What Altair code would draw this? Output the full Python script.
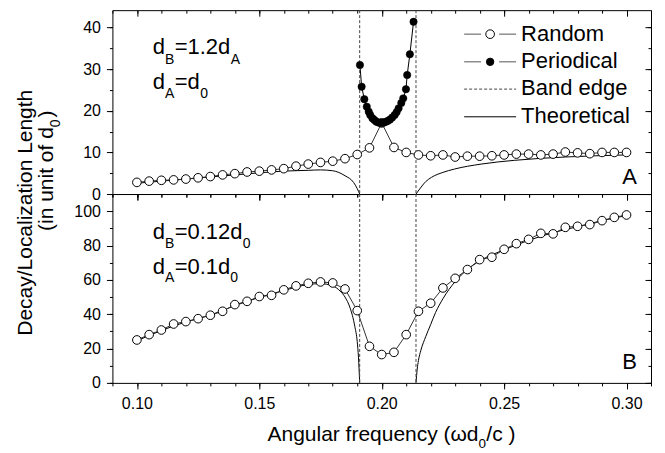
import altair as alt
import pandas as pd

FONT = "Liberation Sans"

# ---------------- data ----------------
x_rand = [0.100, 0.105, 0.110, 0.115, 0.120, 0.125, 0.130, 0.135, 0.140, 0.145,
          0.150, 0.155, 0.160, 0.165, 0.170, 0.175, 0.180, 0.185, 0.190, 0.195,
          0.200, 0.205, 0.210, 0.215, 0.220, 0.225, 0.230, 0.235, 0.240, 0.245,
          0.250, 0.255, 0.260, 0.265, 0.270, 0.275, 0.280, 0.285, 0.290, 0.295, 0.300]
rand_top = [2.8, 3.1, 3.3, 3.4, 3.6, 3.9, 4.2, 4.6, 4.9, 5.3,
            5.5, 5.8, 6.1, 6.7, 7.2, 7.6, 7.9, 8.5, 9.5, 11.1,
            17.1, 11.2, 10.0, 9.4, 9.2, 9.4, 8.9, 9.1, 9.1, 9.2,
            9.4, 9.6, 9.6, 9.4, 9.6, 10.1, 9.9, 9.7, 10.0, 10.0, 10.0]
rand_bot = [25.0, 28.1, 30.8, 34.3, 35.7, 37.4, 39.4, 41.7, 45.6, 47.5,
            50.3, 51.0, 54.2, 56.5, 58.0, 58.8, 58.2, 54.7, 42.1, 21.3,
            16.5, 17.8, 28.1, 41.7, 46.4, 55.3, 60.9, 66.0, 71.8, 73.2,
            77.8, 81.1, 83.6, 87.1, 86.8, 90.6, 91.2, 92.2, 94.5, 96.4, 97.8]

x_per = [0.1911, 0.1918, 0.1929, 0.1939, 0.1947, 0.1953, 0.1962, 0.1970, 0.1978,
         0.1986, 0.1994, 0.2002, 0.2010, 0.2018, 0.2026, 0.2034, 0.2043, 0.2053,
         0.2061, 0.2069, 0.2080, 0.2088, 0.2099, 0.2104, 0.2115, 0.2130]
y_per = [31.0, 25.8, 22.8, 21.0, 19.8, 19.0, 18.2, 17.8, 17.4,
         17.2, 17.1, 17.1, 17.2, 17.4, 17.6, 17.9, 18.4, 19.0,
         19.7, 20.6, 21.9, 23.0, 25.2, 28.6, 33.6, 41.4]

th_top_left_x = [0.100, 0.110, 0.120, 0.130, 0.140, 0.150, 0.160, 0.170, 0.175,
                 0.180, 0.185, 0.1885, 0.190, 0.191]
th_top_left_y = [2.6, 3.1, 3.6, 4.1, 4.6, 5.1, 5.5, 5.7, 5.8,
                 5.6, 4.4, 2.8, 1.3, 0.0]
th_top_right_x = [0.214, 0.2155, 0.218, 0.2203, 0.225, 0.2297, 0.2406, 0.2542, 0.275, 0.300]
th_top_right_y = [0.0, 1.2, 3.0, 4.0, 5.2, 6.0, 7.2, 8.1, 8.9, 9.4]

th_bot_left_x = [0.100, 0.110, 0.120, 0.130, 0.140, 0.150, 0.160, 0.170, 0.175,
                 0.180, 0.183, 0.185, 0.187, 0.189, 0.190, 0.1905, 0.191]
th_bot_left_y = [24.5, 30.5, 35.5, 39.5, 45.0, 49.8, 53.8, 57.3, 57.8,
                 56.5, 53.5, 50.0, 44.0, 33.0, 24.0, 15.0, 0.0]
th_bot_right_x = [0.214, 0.2145, 0.215, 0.216, 0.218, 0.220, 0.222, 0.225, 0.230,
                  0.235, 0.240, 0.250, 0.260, 0.270, 0.280, 0.290, 0.300]
th_bot_right_y = [0.0, 8.0, 13.0, 19.0, 27.0, 34.0, 41.0, 49.0, 59.0,
                  66.0, 71.0, 77.5, 83.0, 87.5, 91.0, 94.5, 97.5]

band_edges = [0.191, 0.214]

x_major = [0.10, 0.15, 0.20, 0.25, 0.30]
x_minor = [0.09, 0.10, 0.11, 0.12, 0.13, 0.14, 0.15, 0.16, 0.17, 0.18, 0.19, 0.20,
           0.21, 0.22, 0.23, 0.24, 0.25, 0.26, 0.27, 0.28, 0.29, 0.30, 0.31]
y_top_major = [0, 10, 20, 30, 40]
y_top_minor = [0, 5, 10, 15, 20, 25, 30, 35, 40]
y_bot_major = [0, 20, 40, 60, 80, 100]
y_bot_minor = [0, 10, 20, 30, 40, 50, 60, 70, 80, 90, 100, 110]

legend_labels = ["Random", "Periodical", "Band edge", "Theoretical"]

W = 539
H_TOP = 184
H_BOT = 189
X_DOMAIN = [0.09, 0.31]
Y_TOP_DOMAIN = [0, 44.2]
Y_BOT_DOMAIN = [0, 110]

xs = alt.Scale(domain=X_DOMAIN, nice=False, zero=False)


def axis_layers(df, ys, ymaj, ymin, show_x_labels):
    common = dict(title=None, grid=False, domain=False, labelFlush=False)
    specs = [
        (dict(orient="bottom", values=x_major, tickSize=6, labels=show_x_labels,
              format=".2f", labelPadding=7),
         dict(orient="left", values=ymaj, tickSize=6, labels=True, format="d",
              labelPadding=6)),
        (dict(orient="bottom", values=x_minor, tickSize=3, labels=False),
         dict(orient="left", values=ymin, tickSize=3, labels=False)),
        (dict(orient="top", values=x_major, tickSize=6, offset=-6, labels=False),
         dict(orient="right", values=ymaj, tickSize=6, offset=-6, labels=False)),
        (dict(orient="top", values=x_minor, tickSize=3, offset=-3, labels=False),
         dict(orient="right", values=ymin, tickSize=3, offset=-3, labels=False)),
    ]
    out = []
    for ax, ay in specs:
        out.append(
            alt.Chart(df).mark_point(opacity=0).encode(
                x=alt.X("x:Q", scale=xs, axis=alt.Axis(**common, **ax)),
                y=alt.Y("y:Q", scale=ys, axis=alt.Axis(**common, **ay)),
            )
        )
    return out


def text_layer(df, angle=0, align="left"):
    return alt.Chart(df).mark_text(
        font=FONT, align=align, baseline="alphabetic", angle=angle, color="black"
    ).encode(
        x=alt.X("px:Q", scale=None, axis=None),
        y=alt.Y("py:Q", scale=None, axis=None),
        text="t:N",
        size=alt.Size("fs:Q", scale=None, legend=None),
    )


def data_layers(rand_df, theory_df, ys):
    theory = alt.Chart(theory_df).mark_line(
        color="black", strokeWidth=1, interpolate="monotone"
    ).encode(
        x=alt.X("x:Q", scale=xs, axis=None),
        y=alt.Y("y:Q", scale=ys, axis=None),
        detail="seg:N",
    )
    edges = alt.Chart(pd.DataFrame({"x": band_edges})).mark_rule(
        color="#444", strokeWidth=1, strokeDash=[3, 2]
    ).encode(x=alt.X("x:Q", scale=xs, axis=None))
    rline = alt.Chart(rand_df).mark_line(color="#333", strokeWidth=1).encode(
        x=alt.X("x:Q", scale=xs, axis=None),
        y=alt.Y("y:Q", scale=ys, axis=None),
    )
    rpts = alt.Chart(rand_df).mark_point(
        shape="circle", filled=True, fill="white", stroke="black",
        strokeWidth=1, size=75, opacity=1
    ).encode(
        x=alt.X("x:Q", scale=xs, axis=None),
        y=alt.Y("y:Q", scale=ys, axis=None),
    )
    return [theory, edges, rline, rpts]


# ---------------- top panel ----------------
rand_top_df = pd.DataFrame({"x": x_rand, "y": rand_top})
per_df = pd.DataFrame({"x": x_per, "y": y_per})
th_top_df = pd.concat([
    pd.DataFrame({"x": th_top_left_x, "y": th_top_left_y, "seg": "left"}),
    pd.DataFrame({"x": th_top_right_x, "y": th_top_right_y, "seg": "right"}),
])
ys_top = alt.Scale(domain=Y_TOP_DOMAIN, nice=False, zero=False)

per_line = alt.Chart(per_df).mark_line(color="black", strokeWidth=1).encode(
    x=alt.X("x:Q", scale=xs, axis=None), y=alt.Y("y:Q", scale=ys_top, axis=None))
per_pts = alt.Chart(per_df).mark_point(
    shape="circle", filled=True, fill="black", stroke="black", strokeWidth=0.5,
    size=55, opacity=1
).encode(x=alt.X("x:Q", scale=xs, axis=None), y=alt.Y("y:Q", scale=ys_top, axis=None))

top_annot = pd.DataFrame({
    "t":  ["d", "B", "=1.2d", "A", "d", "A", "=d", "0", "A"],
    "px": [52.5, 52.5, 62.3, 118.5, 52.5, 52.5, 62.3, 88.0, 525],
    "py": [44.0, 53.4, 44.0, 53.4, 79.0, 87.4, 79.0, 87.4, 174],
    "fs": [22, 14, 22, 14, 22, 14, 22, 14, 22],
    "al": ["right", "left", "left", "left", "right", "left", "left", "left", "right"],
})

# y-axis title (rotated) placed relative to the top panel
ytitle_main = pd.DataFrame({"t": ["Decay/Localization Length"], "px": [-80], "py": [202.7], "fs": [21]})
ytitle2_a = pd.DataFrame({"t": ["(in unit of d"], "px": [-59], "py": [169.0], "fs": [21]})
ytitle2_b = pd.DataFrame({"t": ["0", ")"], "px": [-52.5, -59], "py": [117.2, 107.4], "fs": [14, 21]})

# legend
leg_text = pd.DataFrame({"t": legend_labels, "px": [409] * 4,
                         "py": [30.7, 57.4, 85.0, 113.4], "fs": [22] * 4})
leg_seg = pd.DataFrame({
    "x1": [352, 387, 352, 387, 352],
    "x2": [369, 404, 369, 404, 404],
    "y":  [24.0, 24.0, 51.7, 51.7, 106.7],
    "c":  ["#555", "#555", "#555", "#555", "black"],
})
leg_dash = pd.DataFrame({"x1": [352], "x2": [404], "y": [79.0]})
leg_mark = pd.DataFrame({"x": [378, 378], "y": [24.0, 51.7],
                         "f": ["white", "black"], "s": [75, 55]})

leg_layers = [
    alt.Chart(leg_seg).mark_rule(strokeWidth=1).encode(
        x=alt.X("x1:Q", scale=None, axis=None), x2="x2:Q",
        y=alt.Y("y:Q", scale=None, axis=None), color=alt.Color("c:N", scale=None)),
    alt.Chart(leg_dash).mark_rule(strokeWidth=1, strokeDash=[3, 2], color="#444").encode(
        x=alt.X("x1:Q", scale=None, axis=None), x2="x2:Q",
        y=alt.Y("y:Q", scale=None, axis=None)),
    alt.Chart(leg_mark).mark_point(shape="circle", filled=True, stroke="black",
                                   strokeWidth=1, opacity=1).encode(
        x=alt.X("x:Q", scale=None, axis=None), y=alt.Y("y:Q", scale=None, axis=None),
        fill=alt.Fill("f:N", scale=None), size=alt.Size("s:Q", scale=None, legend=None)),
    text_layer(leg_text),
]

annot_layers = []
for al in ["left", "right"]:
    sub = top_annot[top_annot["al"] == al]
    annot_layers.append(text_layer(sub, align=al))

top = alt.layer(
    *axis_layers(rand_top_df, ys_top, y_top_major, y_top_minor, False),
    *data_layers(rand_top_df, th_top_df, ys_top),
    per_line, per_pts,
    *leg_layers,
    *annot_layers,
    text_layer(ytitle_main, angle=270, align="center"),
    text_layer(ytitle2_a, angle=270, align="center"),
    text_layer(ytitle2_b, angle=270, align="left"),
).resolve_axis(x="independent", y="independent").properties(width=W, height=H_TOP)

# ---------------- bottom panel ----------------
rand_bot_df = pd.DataFrame({"x": x_rand, "y": rand_bot})
th_bot_df = pd.concat([
    pd.DataFrame({"x": th_bot_left_x, "y": th_bot_left_y, "seg": "left"}),
    pd.DataFrame({"x": th_bot_right_x, "y": th_bot_right_y, "seg": "right"}),
])
ys_bot = alt.Scale(domain=Y_BOT_DOMAIN, nice=False, zero=False)

bot_annot = pd.DataFrame({
    "t":  ["d", "B", "=0.12d", "0", "d", "A", "=0.1d", "0", "B"],
    "px": [52.5, 52.5, 62.3, 130.5, 52.5, 52.5, 62.3, 118.0, 525],
    "py": [45.0, 53.7, 45.0, 53.7, 80.0, 88.4, 80.0, 88.4, 175],
    "fs": [22, 14, 22, 14, 22, 14, 22, 14, 22],
    "al": ["right", "left", "left", "left", "right", "left", "left", "left", "right"],
})
bot_annot_layers = []
for al in ["left", "right"]:
    sub = bot_annot[bot_annot["al"] == al]
    bot_annot_layers.append(text_layer(sub, align=al))

xtitle_a = pd.DataFrame({"t": ["Angular frequency (ωd"], "px": [366.4], "py": [247.3], "fs": [21]})
xtitle_b = pd.DataFrame({"t": ["0", "/c )"], "px": [366.4, 374.2], "py": [253.8, 247.3], "fs": [13.5, 21]})

bottom = alt.layer(
    *axis_layers(rand_bot_df, ys_bot, y_bot_major, y_bot_minor, True),
    *data_layers(rand_bot_df, th_bot_df, ys_bot),
    *bot_annot_layers,
    text_layer(xtitle_a, align="right"),
    text_layer(xtitle_b, align="left"),
).resolve_axis(x="independent", y="independent").properties(width=W, height=H_BOT)

chart = alt.vconcat(top, bottom, spacing=0, bounds="flush").properties(
    padding={"left": 6.5, "top": 1, "right": 5, "bottom": 5}
).configure_view(
    stroke="black", strokeWidth=1
).configure_axis(
    grid=False, domain=False, tickColor="black", tickWidth=1,
    labelColor="black", labelFont=FONT, labelFontSize=16
)

chart.save("out.html", embed_options={"renderer": "svg", "actions": False})
